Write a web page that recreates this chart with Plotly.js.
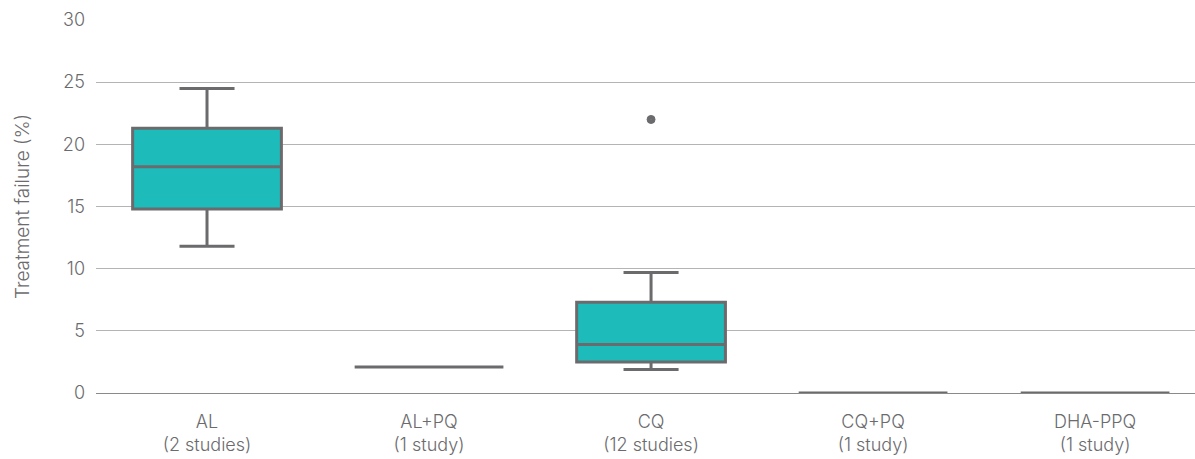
<!DOCTYPE html>
<html>
<head>
<meta charset="utf-8">
<script src="https://cdn.plot.ly/plotly-3.0.1.min.js"></script>
<style>html,body{margin:0;padding:0;background:#fff;}#chart{width:1195px;height:459px;}</style>
</head>
<body>
<div id="chart"></div>
<script>
const categories = ["AL<br>(2 studies)", "AL+PQ<br>(1 study)", "CQ<br>(12 studies)", "CQ+PQ<br>(1 study)", "DHA-PPQ<br>(1 study)"];
const lowerFence = [11.8, 2.1, 1.9, 0, 0];
const q1 = [14.8, 2.1, 2.5, 0, 0];
const median = [18.2, 2.1, 3.9, 0, 0];
const q3 = [21.3, 2.1, 7.3, 0, 0];
const upperFence = [24.5, 2.1, 9.7, 0, 0];
const outlierCategories = ["CQ<br>(12 studies)"];
const outlierValues = [22.0];
const yTicks = [0, 5, 10, 15, 20, 25, 30];

const gray = "#6b6b6e";
const font = "Inter, Lato, sans-serif";

const traces = [
  {
    type: "box",
    x: categories,
    q1: q1, median: median, q3: q3,
    lowerfence: lowerFence, upperfence: upperFence,
    fillcolor: "#1dbbba",
    line: {color: gray, width: 3},
    width: 0.67,
    whiskerwidth: 0.37,
    boxpoints: false,
    hoverinfo: "skip",
    showlegend: false
  },
  {
    type: "scatter",
    mode: "markers",
    x: outlierCategories,
    y: outlierValues,
    marker: {symbol: "circle-dot", size: 8, color: gray, line: {color: gray, width: 1}},
    showlegend: false,
    hoverinfo: "skip"
  }
];

const layout = {
  width: 1195, height: 459,
  margin: {l: 96, r: 0, t: 20, b: 66},
  paper_bgcolor: "#fff", plot_bgcolor: "#fff",
  font: {family: font, color: "#6b6b6e", size: 18, weight: 300},
  showlegend: false,
  xaxis: {
    type: "category",
    categoryorder: "array", categoryarray: categories,
    range: [-0.5, 4.45],
    showgrid: false, zeroline: false, showline: false,
    ticks: "", ticklabelstandoff: 16,
    tickfont: {family: font, size: 18, color: "#6b6b6e", weight: 300}
  },
  yaxis: {
    range: [0, 30],
    tickvals: yTicks,
    ticktext: yTicks.map(String),
    showgrid: true, gridcolor: "#b4b4b4", gridwidth: 1,
    zeroline: true, zerolinecolor: "#8a8a8a", zerolinewidth: 1,
    showline: false, ticks: "",
    ticklabelstandoff: 10,
    tickfont: {family: font, size: 18, color: "#6b6b6e", weight: 300},
    title: {text: "Treatment failure (%)", font: {family: font, size: 19, color: "#6b6b6e", weight: 300}, standoff: 28}
  }
};

Plotly.newPlot("chart", traces, layout, {displayModeBar: false, staticPlot: true});
</script>
</body>
</html>
